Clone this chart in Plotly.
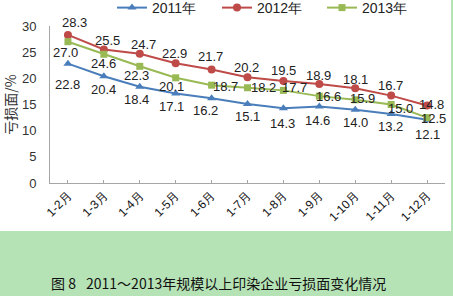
import plotly.graph_objects as go

categories = ["1-2月", "1-3月", "1-4月", "1-5月", "1-6月", "1-7月", "1-8月", "1-9月", "1-10月", "1-11月", "1-12月"]
y2011 = [22.8, 20.4, 18.4, 17.1, 16.2, 15.1, 14.3, 14.6, 14.0, 13.2, 12.1]
y2012 = [28.3, 25.5, 24.7, 22.9, 21.7, 20.2, 19.5, 18.9, 18.1, 16.7, 14.8]
y2013 = [27.0, 24.6, 22.3, 20.1, 18.7, 18.2, 17.7, 16.6, 15.9, 15.0, 12.5]
series_names = ["2011年", "2012年", "2013年"]
yticks = [0, 5, 10, 15, 20, 25, 30]
caption = "图 8\u2002 2011～2013年规模以上印染企业亏损面变化情况"
ytitle = "亏损面/%"

# label placement (pixel offsets of each data label from its point: dx, dy with dy>0 = down)
off2011 = [(0, 21), (0, 13), (-3, 13), (-4, 13), (-6, 12), (0, 13), (-1, 15), (-2, 14), (0, 13), (-1, 13), (0, 15)]
off2012 = [(7, -12), (4, -9), (4, -9), (-1, -10), (-1, -13), (-1, -10), (0, -10), (-1, -9), (0, -9), (-1, -10), (4, -1)]
off2013 = [(-2, 11), (0, 9), (-3, 9), (-4, 9), (14, 1), (16, 0), (11, -3), (9, 0), (7, -1), (9, 4), (6, 1)]

W, H = 453, 296
L, R, T, B = 50, 8, 26, 113
pw, ph = W - L - R, H - T - B

def px_x(q):
    return (q - L) / pw

def px_y(p):
    return (H - B - p) / ph

lab_font = dict(family="Liberation Sans, Arial, sans-serif", size=13, color="#222222")

x = list(range(len(categories)))
fig = go.Figure()
series = [
    (y2011, series_names[0], "#4a7ebb", "triangle-up", 8, off2011),
    (y2012, series_names[1], "#be4b48", "circle", 8, off2012),
    (y2013, series_names[2], "#98b954", "square", 7, off2013),
]
for ys, nm, col, sym, sz, offs in series:
    fig.add_trace(go.Scatter(
        x=x, y=ys, name=nm, mode="lines+markers",
        line=dict(color=col, width=2),
        marker=dict(symbol=sym, size=sz, color=col), cliponaxis=False))
for ys, nm, col, sym, sz, offs in series:
    for xi, v, (dx, dy) in zip(x, ys, offs):
        fig.add_annotation(x=xi, y=v, text=f"{v:.1f}", showarrow=False,
                           xanchor="center", yanchor="middle",
                           xshift=dx, yshift=-dy, font=lab_font)

fig.update_layout(
    width=W, height=H,
    margin=dict(l=L, r=R, t=T, b=B, autoexpand=False),
    paper_bgcolor="white", plot_bgcolor="white",
    showlegend=True,
    legend=dict(orientation="h", x=px_x(112), y=px_y(8), xanchor="left", yanchor="middle",
                font=dict(family="Liberation Sans, Arial, sans-serif", size=14, color="#222222"),
                itemwidth=30, entrywidth=60, entrywidthmode="pixels",
                tracegroupgap=0, bgcolor="rgba(0,0,0,0)"),
    xaxis=dict(
        tickmode="array", tickvals=x, ticktext=categories, range=[-0.5, 10.5],
        tickangle=-45, showline=True, linecolor="#a6a6a6", linewidth=1,
        ticks="inside", ticklen=3, tickcolor="#a6a6a6", showgrid=False, zeroline=False,
        tickfont=dict(family="Liberation Sans, Arial, sans-serif", size=12, color="#111111")),
    yaxis=dict(
        tickvals=yticks, range=[0, 30], showline=True, linecolor="#a6a6a6", linewidth=1,
        ticks="", showgrid=False, zeroline=False, ticklabelstandoff=10,
        tickfont=dict(family="Liberation Sans, Arial, sans-serif", size=13, color="#333333"),
        title=dict(text=ytitle, standoff=6,
                   font=dict(family="Noto Sans CJK SC, sans-serif", size=14, color="#333333"))),
)

fig.add_shape(type="rect", xref="paper", yref="paper",
              x0=px_x(0), x1=px_x(W), y0=px_y(H), y1=px_y(231),
              fillcolor="#b6e3b6", line=dict(width=0), layer="below")
fig.add_shape(type="rect", xref="paper", yref="paper",
              x0=px_x(451), x1=px_x(W), y0=px_y(H), y1=px_y(0),
              fillcolor="#b6e3b6", line=dict(width=0), layer="below")
fig.add_annotation(text=caption, xref="paper", yref="paper",
                   x=px_x(218), y=px_y(283), xanchor="center", yanchor="middle",
                   showarrow=False,
                   font=dict(family="Noto Sans CJK SC, sans-serif", size=14, color="#111111"))

fig.write_html("out.html")
